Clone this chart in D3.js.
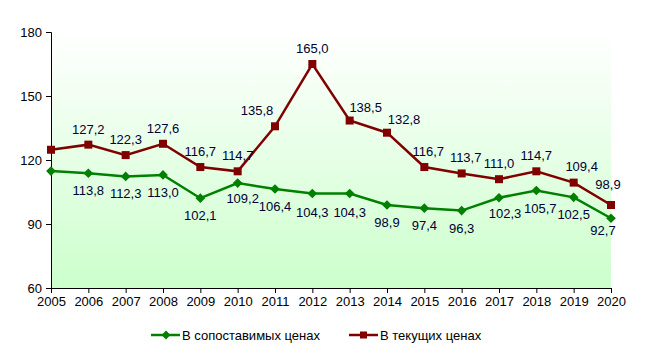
<!DOCTYPE html>
<html>
<head>
<meta charset="utf-8">
<script src="https://cdn.jsdelivr.net/npm/d3@7"></script>
<style>
  body { margin: 0; background: #fff; }
  svg text { font-family: "Liberation Sans", Arial, sans-serif; }
</style>
</head>
<body>
<div id="chart"></div>
<script>
// data
const years = ["2005","2006","2007","2008","2009","2010","2011","2012","2013","2014","2015","2016","2017","2018","2019","2020"];
const comparable = [114.8,113.8,112.3,113.0,102.1,109.2,106.4,104.3,104.3,98.9,97.4,96.3,102.3,105.7,102.5,92.7];
const current = [124.8,127.2,122.3,127.6,116.7,114.7,135.8,165.0,138.5,132.8,116.7,113.7,111.0,114.7,109.4,98.9];
const yTicks = [60,90,120,150,180];
// first point of each series has no label in the original
const showLabel = years.map((d,i) => i > 0);

//manual label nudges [dx, dy] (layout only, matches the hand-placed labels)
const nudgeCurrent = {"2011": [-18, 0], "2013": [16, 2], "2014": [17, 2], "2015": [4, 0], "2016": [4, 0], "2019": [8, -1], "2020": [-3, -5]};
const nudgeComparable = {"2010": [5, -2], "2017": [6, -2], "2018": [4, 0], "2020": [-8, -5], "2012": [0, 2], "2013": [0, 2]};

//positional parameters
let svgWidth = 653;
let svgHeight = 353;
let plotLeft = 51, plotRight = 611, plotTop = 32, plotBottom = 288;
let fontSize = 13;

let svg = d3.select("#chart")
  .append("svg")
  .attr("width", svgWidth)
  .attr("height", svgHeight);

//background gradient for plot area
let defs = svg.append("defs");
let grad = defs.append("linearGradient")
  .attr("id", "bg")
  .attr("x1", 0).attr("y1", 0).attr("x2", 0).attr("y2", 1);
grad.append("stop").attr("offset", "0%").attr("stop-color", "#ffffff");
grad.append("stop").attr("offset", "100%").attr("stop-color", "#ccffcc");

let xScale = d3.scalePoint()
  .domain(years)
  .range([plotLeft, plotRight]);

let yScale = d3.scaleLinear()
  .domain([60, 180])
  .range([plotBottom, plotTop]);

svg.append("rect")
  .attr("x", plotLeft).attr("y", plotTop)
  .attr("width", plotRight - plotLeft).attr("height", plotBottom - plotTop)
  .attr("fill", "url(#bg)");

//y axis
let yAxis = d3.axisLeft(yScale).tickValues(yTicks).tickSize(5).tickPadding(4);
let yG = svg.append("g")
  .attr("transform", `translate(${plotLeft},0)`)
  .call(yAxis);
yG.selectAll("text").attr("font-size", fontSize).attr("fill", "#000").style("font-family", "Liberation Sans, Arial, sans-serif");

//x axis
let xAxis = d3.axisBottom(xScale).tickSize(5).tickPadding(4);
let xG = svg.append("g")
  .attr("transform", `translate(0,${plotBottom})`)
  .call(xAxis);
xG.selectAll("text").attr("font-size", fontSize).attr("fill", "#000").style("font-family", "Liberation Sans, Arial, sans-serif");

svg.selectAll(".domain").attr("stroke", "#000");
svg.selectAll(".tick line").attr("stroke", "#000");

let line = d3.line()
  .x((d,i) => xScale(years[i]))
  .y(d => yScale(d));

const green = "#008000";
const red = "#800000";

//comparable prices
svg.append("path")
  .datum(comparable)
  .attr("fill", "none")
  .attr("stroke", green)
  .attr("stroke-width", 2.5)
  .attr("d", line);

svg.selectAll(".diamond")
  .data(comparable)
  .enter().append("path")
  .attr("transform", (d,i) => `translate(${xScale(years[i])},${yScale(d)})`)
  .attr("d", d3.symbol().type(d3.symbolDiamond2).size(60))
  .attr("fill", green);

//current prices
svg.append("path")
  .datum(current)
  .attr("fill", "none")
  .attr("stroke", red)
  .attr("stroke-width", 2.5)
  .attr("d", line);

svg.selectAll(".square")
  .data(current)
  .enter().append("rect")
  .attr("x", (d,i) => xScale(years[i]) - 4)
  .attr("y", d => yScale(d) - 4)
  .attr("width", 8).attr("height", 8)
  .attr("fill", red);

//data labels
let fmt = v => v.toFixed(1).replace(".", ",");
let toLabels = (arr, nudge) => arr
  .map((v,i) => ({v: v, year: years[i], n: nudge[years[i]] || [0, 0]}))
  .filter((d,i) => showLabel[i]);

svg.selectAll(".lblG")
  .data(toLabels(comparable, nudgeComparable))
  .enter().append("text")
  .attr("x", d => xScale(d.year) + d.n[0])
  .attr("y", d => yScale(d.v) + 22 + d.n[1])
  .attr("text-anchor", "middle")
  .attr("font-size", fontSize)
  .attr("fill", "#000033")
  .text(d => fmt(d.v));

svg.selectAll(".lblR")
  .data(toLabels(current, nudgeCurrent))
  .enter().append("text")
  .attr("x", d => xScale(d.year) + d.n[0])
  .attr("y", d => yScale(d.v) - 11 + d.n[1])
  .attr("text-anchor", "middle")
  .attr("font-size", fontSize)
  .attr("fill", "#000033")
  .text(d => fmt(d.v));

//legend
let legend = [
  {name: "В сопоставимых ценах", color: green, x: 151, shape: "diamond"},
  {name: "В текущих ценах", color: red, x: 349, shape: "square"}
];
let ly = 335;
legend.forEach(function(l) {
  let g = svg.append("g");
  g.append("line")
    .attr("x1", l.x).attr("x2", l.x + 29)
    .attr("y1", ly).attr("y2", ly)
    .attr("stroke", l.color).attr("stroke-width", 2.5);
  if (l.shape === "diamond") {
    g.append("path")
      .attr("transform", `translate(${l.x + 15},${ly})`)
      .attr("d", d3.symbol().type(d3.symbolDiamond2).size(50))
      .attr("fill", l.color);
  } else {
    g.append("rect")
      .attr("x", l.x + 11).attr("y", ly - 3.5)
      .attr("width", 7).attr("height", 7)
      .attr("fill", l.color);
  }
  g.append("text")
    .attr("x", l.x + 31).attr("y", ly + 4.5)
    .attr("font-size", fontSize)
    .attr("fill", "#000")
    .text(l.name);
});
</script>
</body>
</html>
